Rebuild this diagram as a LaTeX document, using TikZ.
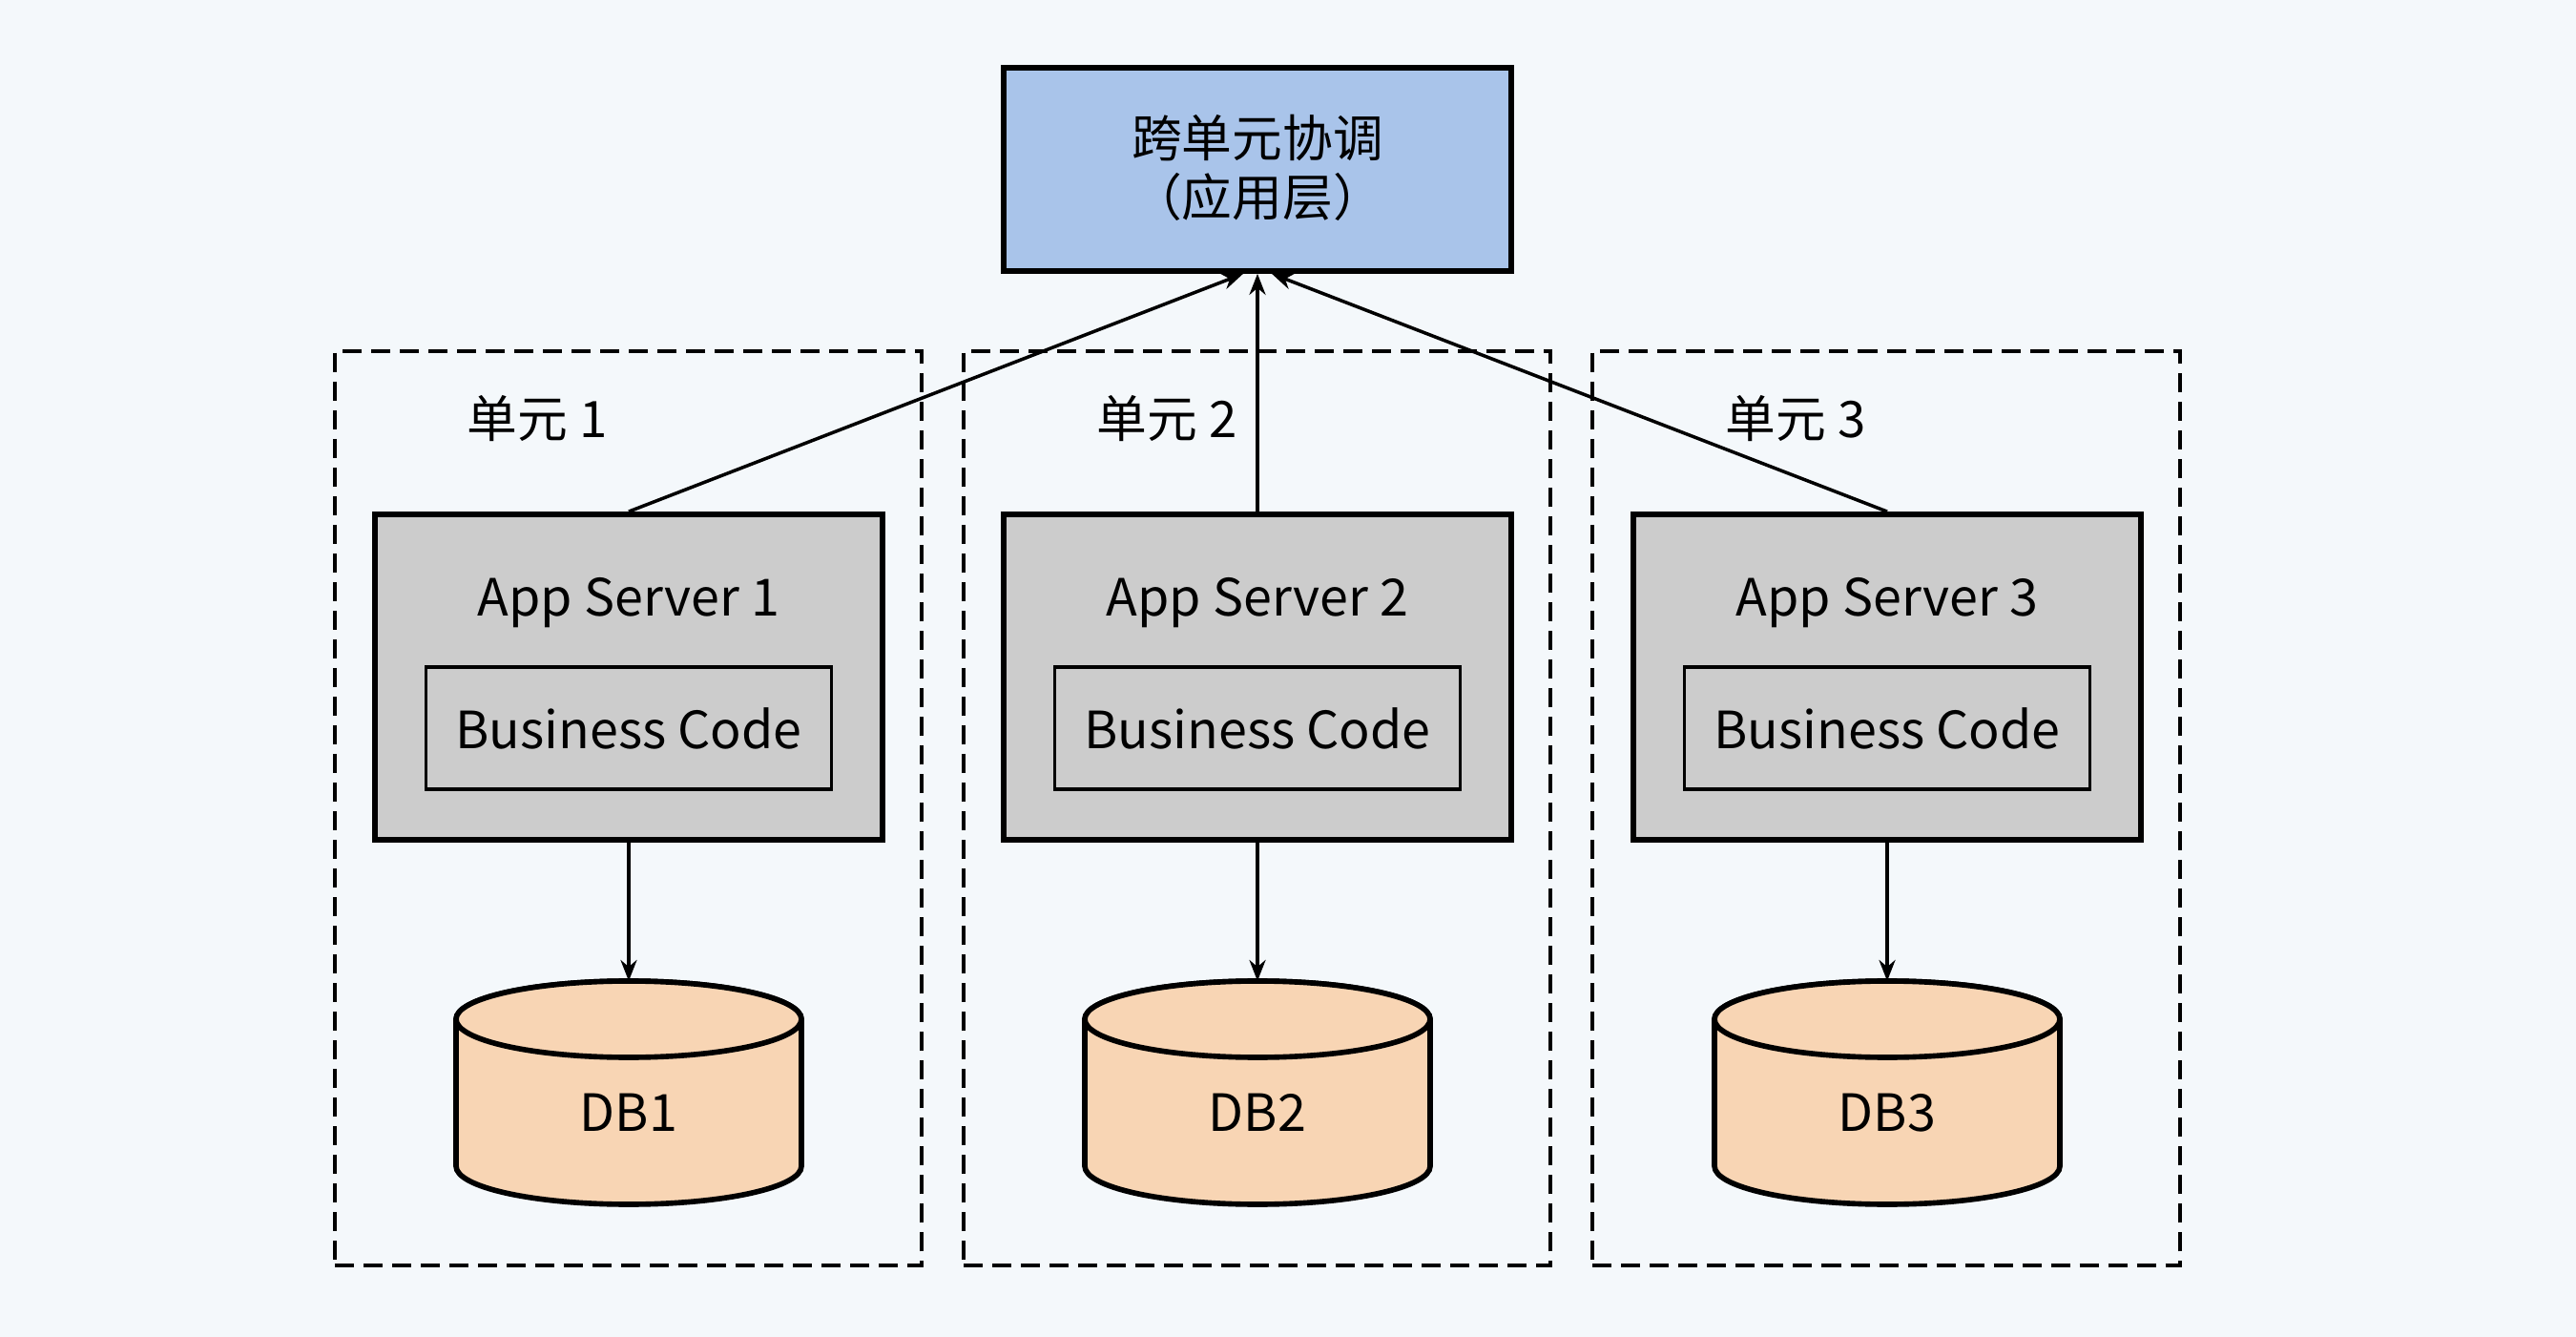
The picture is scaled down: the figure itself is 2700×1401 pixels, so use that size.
\documentclass[tikz,border=0pt]{standalone}
\usepackage{fontspec}
\setmainfont{Noto Sans CJK SC}
\usetikzlibrary{arrows.meta,calc}
\definecolor{bgc}{HTML}{F4F8FB}
\definecolor{topc}{HTML}{A9C4EA}
\definecolor{srvc}{HTML}{CCCCCC}
\definecolor{dbc}{HTML}{F8D5B4}
\tikzset{
  topbox/.style={draw=black,line width=1.6pt,fill=topc,minimum width=5.32cm,minimum height=2.13cm,inner sep=0pt},
  srvbox/.style={draw=black,line width=1.6pt,fill=srvc,minimum width=5.32cm,minimum height=3.41cm,inner sep=0pt},
  bcbox/.style={draw=black,line width=1pt,fill=srvc,minimum width=4.25cm,minimum height=1.28cm,inner sep=0pt,font=\fontsize{15.3}{18}\selectfont},
  unitbox/.style={draw=black,line width=1.1pt,dash pattern=on 0.2cm off 0.1cm,minimum width=6.15cm,minimum height=9.58cm,inner sep=0pt},
  lbl/.style={font=\fontsize{15.3}{18}\selectfont,inner sep=0pt},
  cnlbl/.style={font=\fontsize{15}{17.6}\selectfont,inner sep=0pt},
  arr/.style={draw=black,line width=1pt,-{Stealth[length=0.22cm,width=0.17cm]}},
  dbshape/.style={draw=black,line width=1.6pt,fill=dbc}
}
\begin{document}
\begin{tikzpicture}[x=0.01cm,y=-0.01cm]
\fill[bgc] (0,0) rectangle (2700,1401);
\useasboundingbox (0,0) rectangle (2700,1401);

% dashed units
\foreach \i/\x in {1/658.5,2/1317.5,3/1977}{
  \node[unitbox] (u\i) at (\x,847) {};
}
\node[cnlbl] (ul1) at (563,439) {单元 1};
\node[cnlbl] (ul2) at (1223,439) {单元 2};
\node[cnlbl] (ul3) at (1882,439) {单元 3};

% top box
\node[topbox] (top) at (1318,177.5) {};
\node[cnlbl,align=center] (toptxt) at (1318,176) {跨单元协调\\（应用层）};

% servers
\foreach \i/\x in {1/659,2/1318,3/1978}{
  \node[srvbox] (s\i) at (\x,709.5) {};
  \node[lbl] (st\i) at (\x,632) {App Server \i};
  \node[bcbox] (bc\i) at (\x,763) {Business Code};
  % cylinder
  \path[dbshape] (\x-181,1068) -- (\x-181,1222) arc (180:0:181 and 40) -- (\x+181,1068) arc (0:-180:181 and 40) -- cycle;
  \draw[dbshape] (\x,1068) ellipse (181 and 40);
  \coordinate (dbt\i) at (\x,1028);
  \node[lbl] (db\i) at (\x,1166) {DB\i};
  \draw[arr] (s\i.south) -- (dbt\i);
}

% arrows to top
\draw[arr] (s1.north) -- ([xshift=-0.15cm]top.south);
\draw[arr] (s2.north) -- (top.south);
\draw[arr] (s3.north) -- ([xshift=0.15cm]top.south);
\end{tikzpicture}
\end{document}
